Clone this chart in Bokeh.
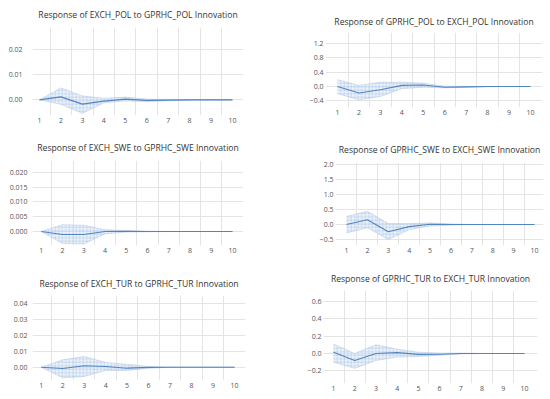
from bokeh.plotting import figure
from bokeh.layouts import column, row
from bokeh.models import FixedTicker, Range1d
from bokeh.embed import file_html
from bokeh.resources import INLINE

# ---------------- data ----------------
periods = [1, 2, 3, 4, 5, 6, 7, 8, 9, 10]
x_tick_labels = ["1", "2", "3", "4", "5", "6", "7", "8", "9", "10"]
grid_x = [1.5, 2.5, 3.5, 4.5, 5.5, 6.5, 7.5, 8.5, 9.5]

titles = [
    "Response of EXCH_POL to GPRHC_POL Innovation",
    "Response of GPRHC_POL to EXCH_POL Innovation",
    "Response of EXCH_SWE to GPRHC_SWE Innovation",
    "Response of GPRHC_SWE to EXCH_SWE Innovation",
    "Response of EXCH_TUR to GPRHC_TUR Innovation",
    "Response of GPRHC_TUR to EXCH_TUR Innovation",
]

# EXCH_POL to GPRHC_POL
resp_pol_exch = [0.0, 0.0012, -0.0017, -0.0005, 0.0003, -0.0002, -0.0001, 0.0, 0.0, 0.0]
upper_pol_exch = [0.0, 0.0048, 0.0016, 0.0006, 0.0011, 0.0003, 0.0002, 0.0001, 0.0, 0.0]
lower_pol_exch = [0.0, -0.0018, -0.0054, -0.0012, -0.0004, -0.0007, -0.0004, -0.0001, 0.0, 0.0]
yticks_pol_exch = [0.0, 0.01, 0.02]
ylabels_pol_exch = ["0.00", "0.01", "0.02"]

# GPRHC_POL to EXCH_POL
resp_pol_gpr = [0.0, -0.18, -0.09, 0.03, 0.04, -0.02, -0.01, 0.0, 0.0, 0.0]
upper_pol_gpr = [0.19, 0.03, 0.12, 0.12, 0.09, 0.01, 0.0, 0.0, 0.0, 0.0]
lower_pol_gpr = [-0.20, -0.37, -0.28, -0.06, -0.02, -0.04, -0.02, -0.01, 0.0, 0.0]
yticks_pol_gpr = [-0.4, 0.0, 0.4, 0.8, 1.2]
ylabels_pol_gpr = ["\u22120.4", "0.0", "0.4", "0.8", "1.2"]

# EXCH_SWE to GPRHC_SWE
resp_swe_exch = [0.0, -0.0010, -0.0010, 0.0000, 0.0001, 0.0, 0.0, 0.0, 0.0, 0.0]
upper_swe_exch = [0.0, 0.0023, 0.0021, 0.0006, 0.0003, 0.0001, 0.0, 0.0, 0.0, 0.0]
lower_swe_exch = [0.0, -0.0040, -0.0042, -0.0008, -0.0002, -0.0001, 0.0, 0.0, 0.0, 0.0]
yticks_swe_exch = [0.0, 0.005, 0.010, 0.015, 0.020]
ylabels_swe_exch = ["0.000", "0.005", "0.010", "0.015", "0.020"]

# GPRHC_SWE to EXCH_SWE
resp_swe_gpr = [0.0, 0.16, -0.24, -0.07, 0.01, 0.0, 0.0, 0.0, 0.0, 0.0]
upper_swe_gpr = [0.27, 0.44, 0.03, 0.03, 0.05, 0.02, 0.0, 0.0, 0.0, 0.0]
lower_swe_gpr = [-0.28, -0.11, -0.50, -0.17, -0.05, -0.02, 0.0, 0.0, 0.0, 0.0]
yticks_swe_gpr = [-0.5, 0.0, 0.5, 1.0, 1.5, 2.0]
ylabels_swe_gpr = ["\u22120.5", "0.0", "0.5", "1.0", "1.5", "2.0"]

# EXCH_TUR to GPRHC_TUR
resp_tur_exch = [0.0, -0.0008, 0.0009, 0.0004, -0.0006, -0.0001, 0.0, 0.0, 0.0, 0.0]
upper_tur_exch = [0.0, 0.0046, 0.0067, 0.0030, 0.0018, 0.0004, 0.0, 0.0, 0.0, 0.0]
lower_tur_exch = [0.0, -0.0066, -0.0058, -0.0020, -0.0020, -0.0007, 0.0, 0.0, 0.0, 0.0]
yticks_tur_exch = [0.0, 0.01, 0.02, 0.03, 0.04]
ylabels_tur_exch = ["0.00", "0.01", "0.02", "0.03", "0.04"]

# GPRHC_TUR to EXCH_TUR
resp_tur_gpr = [0.015, -0.08, 0.0, 0.01, -0.01, -0.008, 0.0, 0.0, 0.0, 0.0]
upper_tur_gpr = [0.11, 0.0, 0.10, 0.05, 0.015, 0.005, 0.005, 0.0, 0.0, 0.0]
lower_tur_gpr = [-0.10, -0.17, -0.08, -0.04, -0.035, -0.02, -0.005, 0.0, 0.0, 0.0]
yticks_tur_gpr = [-0.2, 0.0, 0.2, 0.4, 0.6]
ylabels_tur_gpr = ["\u22120.2", "0.0", "0.2", "0.4", "0.6"]

series = [
    (resp_pol_exch, upper_pol_exch, lower_pol_exch, yticks_pol_exch, ylabels_pol_exch),
    (resp_pol_gpr, upper_pol_gpr, lower_pol_gpr, yticks_pol_gpr, ylabels_pol_gpr),
    (resp_swe_exch, upper_swe_exch, lower_swe_exch, yticks_swe_exch, ylabels_swe_exch),
    (resp_swe_gpr, upper_swe_gpr, lower_swe_gpr, yticks_swe_gpr, ylabels_swe_gpr),
    (resp_tur_exch, upper_tur_exch, lower_tur_exch, yticks_tur_exch, ylabels_tur_exch),
    (resp_tur_gpr, upper_tur_gpr, lower_tur_gpr, yticks_tur_gpr, ylabels_tur_gpr),
]

# ---------------- layout geometry ----------------
# (width, height, border L, R, T, B, x range, y range, title standoff, y label standoff)
geom = [
    (275, 130, 32, 32, 25, 15, (0.674, 10.513), (-0.00627, 0.02902), 12.5, 10),
    (275, 130, 50, 8, 32, 23, (0.440, 10.560), (-0.587, 1.508), 10, 2),
    (275, 135, 32, 32, 30, 20, (0.591, 10.518), (-0.00472, 0.02395), 14, 5),
    (275, 135, 60, 7, 32, 20, (0.471, 10.433), (-0.70, 2.067), 13, 2),
    (275, 134, 32, 30, 30, 19, (0.595, 10.512), (-0.0083, 0.0448), 11.5, 5),
    (275, 134, 48, 13, 25, 16, (0.529, 10.613), (-0.344, 0.7225), 10.5, 2),
]

FONT = "Open Sans"
GRID = "#e4e4e4"


def make_panel(title, data, g):
    resp, up, lo, yt, yl = data
    w, h, bl, br, bt, bb, xr, yr, tstand, ystand = g
    p = figure(width=w, height=h, output_backend="svg", toolbar_location=None,
               x_range=Range1d(*xr), y_range=Range1d(*yr),
               min_border_left=bl, min_border_right=br,
               min_border_top=bt, min_border_bottom=bb)
    p.frame_align = False
    p.outline_line_color = None
    p.background_fill_color = "white"
    p.border_fill_color = "white"

    p.title.text = title
    p.title.text_font = FONT
    p.title.text_font_size = "8.6px"
    p.title.text_font_style = "normal"
    p.title.text_color = "#333333"
    p.title.align = "center"
    p.title.standoff = tstand

    p.xaxis.ticker = FixedTicker(ticks=periods)
    p.xaxis.major_label_overrides = {v: s for v, s in zip(periods, x_tick_labels)}
    p.yaxis.ticker = FixedTicker(ticks=yt)
    p.yaxis.major_label_overrides = {v: s for v, s in zip(yt, yl)}
    for ax in (p.xaxis[0], p.yaxis[0]):
        ax.axis_line_color = None
        ax.major_tick_line_color = None
        ax.minor_tick_line_color = None
        ax.major_tick_out = 0
        ax.major_tick_in = 0
        ax.minor_tick_out = 0
        ax.minor_tick_in = 0
        ax.major_label_text_font = FONT
        ax.major_label_text_font_size = "7px"
        ax.major_label_text_color = "#555555"
    p.xaxis.major_label_standoff = 2
    p.yaxis.major_label_standoff = ystand

    p.xgrid.ticker = FixedTicker(ticks=grid_x)
    p.ygrid.ticker = FixedTicker(ticks=yt)
    p.xgrid.grid_line_color = GRID
    p.ygrid.grid_line_color = GRID

    p.varea(x=periods, y1=lo, y2=up, fill_color="#dce8f6", fill_alpha=0.5,
            hatch_pattern="+", hatch_color="#9ab9e0", hatch_alpha=0.7,
            hatch_scale=3.5, hatch_weight=0.6)
    p.line(periods, up, line_color="#a8c2e6", line_width=0.8, line_alpha=0.6)
    p.line(periods, lo, line_color="#a8c2e6", line_width=0.8, line_alpha=0.6)
    p.line(periods, resp, line_color="#5283c2", line_width=1.1)
    return p


plots = [make_panel(t, d, g) for t, d, g in zip(titles, series, geom)]

layout = column(
    row(plots[0], plots[1], spacing=0),
    row(plots[2], plots[3], spacing=0),
    row(plots[4], plots[5], spacing=0),
    spacing=0,
)

open("out.html", "w").write(file_html(layout, INLINE))
